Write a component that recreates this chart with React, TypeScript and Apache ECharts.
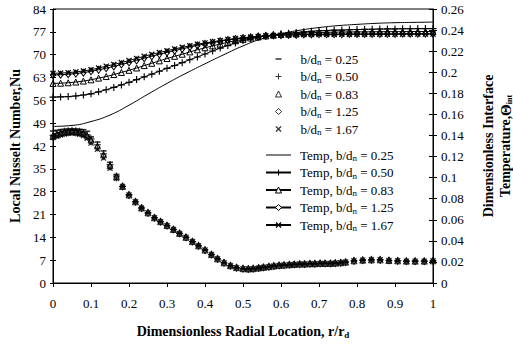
import React, { useEffect, useRef } from "react";
import * as echarts from "echarts";

// Radial locations of the Nusselt-number samples (r/rd)
const xNu = [0, 0.01, 0.02, 0.03, 0.04, 0.05, 0.06, 0.07, 0.08, 0.09, 0.1,
  0.117, 0.133, 0.15, 0.167, 0.183, 0.2, 0.217, 0.233, 0.25, 0.267, 0.283, 0.3,
  0.317, 0.333, 0.35, 0.367, 0.383, 0.4, 0.417, 0.433, 0.45, 0.467, 0.483, 0.5,
  0.514, 0.527, 0.541, 0.554, 0.568, 0.581, 0.595, 0.608, 0.622, 0.635, 0.649,
  0.662, 0.676, 0.689, 0.703, 0.716, 0.73, 0.743, 0.757, 0.77,
  0.792, 0.815, 0.838, 0.861, 0.884, 0.907, 0.93, 0.953, 0.977, 1];

// Nu near the stagnation zone (first 15 samples) for each b/dn
const nuHead025 = [46.6, 46.8, 47.0, 47.1, 47.2, 47.2, 47.2, 47.1, 47.0, 46.5, 44.8, 43.2, 40.5, 37.0, 33.3];
const nuHead050 = [45.3, 45.8, 46.2, 46.5, 46.7, 46.8, 46.7, 46.5, 46.1, 45.4, 44.2, 42.4, 39.6, 36.3, 32.8];
const nuHead083 = [45.0, 45.5, 45.9, 46.2, 46.4, 46.5, 46.4, 46.2, 45.8, 45.1, 43.8, 42.0, 39.3, 36.0, 32.6];
const nuHead125 = [44.8, 45.3, 45.7, 46.0, 46.2, 46.3, 46.2, 46.0, 45.6, 44.8, 43.4, 41.6, 38.9, 35.7, 32.4];
const nuHead167 = [44.6, 45.0, 45.4, 45.7, 45.9, 46.0, 45.9, 45.6, 45.2, 44.4, 42.9, 41.0, 38.3, 35.2, 32.1];
// Nu further out, where all b/dn curves coincide
const nuTail = [29.6, 27.0, 24.9, 23.0, 21.5, 20.0, 18.8, 17.6, 16.4, 15.2, 14.0, 12.7, 11.4, 10.1, 8.7,
  7.4, 6.2, 5.3, 4.7, 4.4, 4.3, 4.4, 4.6, 4.8, 5.0, 5.2, 5.4, 5.5, 5.6, 5.7, 5.8, 5.8, 5.9, 5.9,
  6.0, 6.0, 6.0, 6.1, 6.2, 6.4, 6.8, 7.0, 7.1, 7.1, 6.9, 6.8, 6.7, 6.7, 6.7, 6.8];

// Interface temperature
const xPlain = [0, 0.05, 0.1, 0.15, 0.2, 0.25, 0.3, 0.35, 0.4, 0.45, 0.5, 0.55, 0.6, 0.65, 0.7, 0.75, 0.8, 0.85, 0.9, 0.95, 1];
const temp025 = [0.1486, 0.1495, 0.1532, 0.1594, 0.1687, 0.1792, 0.1894, 0.1990, 0.2080, 0.2167, 0.2250,
  0.2318, 0.2365, 0.2399, 0.2424, 0.2442, 0.2454, 0.2464, 0.2470, 0.2473, 0.2476];

const xT = [0, 0.02, 0.04, 0.06, 0.08, 0.1, 0.12, 0.14, 0.16, 0.18, 0.2, 0.22, 0.24, 0.26, 0.28, 0.3,
  0.32, 0.34, 0.36, 0.38, 0.4, 0.42, 0.44, 0.46, 0.48, 0.5, 0.52, 0.54, 0.56, 0.58, 0.6, 0.62, 0.64,
  0.66, 0.68, 0.7, 0.72, 0.74, 0.76, 0.78, 0.8, 0.82, 0.84, 0.86, 0.88, 0.9, 0.92, 0.94, 0.96, 0.98, 1];
const temp050 = [0.1764, 0.1766, 0.1769, 0.1775, 0.1784, 0.1795, 0.1814, 0.1834, 0.1856, 0.1880, 0.1904,
  0.1930, 0.1956, 0.1982, 0.2009, 0.2037, 0.2064, 0.2091, 0.2119, 0.2145, 0.2173, 0.2201, 0.2229, 0.2253,
  0.2278, 0.2300, 0.2317, 0.2332, 0.2346, 0.2355, 0.2365, 0.2371, 0.2377, 0.2383, 0.2388, 0.2393, 0.2396,
  0.2399, 0.2400, 0.2403, 0.2405, 0.2407, 0.2408, 0.2410, 0.2411, 0.2411, 0.2413, 0.2413, 0.2414, 0.2414, 0.2414];
const temp083 = [0.1894, 0.1896, 0.1900, 0.1907, 0.1916, 0.1928, 0.1944, 0.1959, 0.1978, 0.1998, 0.2018,
  0.2040, 0.2063, 0.2085, 0.2108, 0.2130, 0.2151, 0.2171, 0.2193, 0.2213, 0.2232, 0.2250, 0.2267, 0.2284,
  0.2298, 0.2312, 0.2325, 0.2335, 0.2345, 0.2352, 0.2359, 0.2363, 0.2366, 0.2371, 0.2374, 0.2377, 0.2379,
  0.2380, 0.2382, 0.2382, 0.2383, 0.2383, 0.2384, 0.2384, 0.2385, 0.2385, 0.2385, 0.2386, 0.2386, 0.2386, 0.2386];
const temp125 = [0.1975, 0.1976, 0.1981, 0.1987, 0.1996, 0.2009, 0.2023, 0.2038, 0.2055, 0.2074, 0.2092,
  0.2112, 0.2133, 0.2151, 0.2170, 0.2188, 0.2205, 0.2222, 0.2239, 0.2255, 0.2269, 0.2281, 0.2294, 0.2306,
  0.2315, 0.2325, 0.2332, 0.2340, 0.2345, 0.2349, 0.2352, 0.2354, 0.2355, 0.2359, 0.2360, 0.2362, 0.2362,
  0.2362, 0.2362, 0.2363, 0.2363, 0.2363, 0.2364, 0.2364, 0.2364, 0.2364, 0.2365, 0.2365, 0.2365, 0.2365, 0.2365];
const temp167 = [0.1990, 0.1992, 0.1996, 0.2003, 0.2012, 0.2024, 0.2040, 0.2057, 0.2074, 0.2092, 0.2111,
  0.2131, 0.2151, 0.2170, 0.2187, 0.2204, 0.2221, 0.2236, 0.2252, 0.2266, 0.2278, 0.2289, 0.2300, 0.2311,
  0.2320, 0.2328, 0.2334, 0.2340, 0.2345, 0.2349, 0.2352, 0.2354, 0.2355, 0.2357, 0.2359, 0.2359, 0.2359,
  0.2359, 0.2360, 0.2360, 0.2360, 0.2360, 0.2361, 0.2361, 0.2361, 0.2361, 0.2361, 0.2362, 0.2362, 0.2362, 0.2362];

const ratios = ["0.25", "0.50", "0.83", "1.25", "1.67"];
const nuHeads = [nuHead025, nuHead050, nuHead083, nuHead125, nuHead167];

const FONT = "'Liberation Serif', 'Times New Roman', serif";

const DASH = "path://M0,0H10V2.5H0Z";
const LINE_ICON = "path://M0,0H25V1H0Z";
const PLUS = "path://M4.2,0H5.8V4.2H10V5.8H5.8V10H4.2V5.8H0V4.2H4.2Z";
const CROSS = "path://M0,1.5L1.5,0L5,3.5L8.5,0L10,1.5L6.5,5L10,8.5L8.5,10L5,6.5L1.5,10L0,8.5L3.5,5Z";
const HOLLOW = { color: "rgba(255,255,255,0)", borderColor: "#000", borderWidth: 1 };
const HOLLOW_LEGEND = { color: "#fff", borderColor: "#000", borderWidth: 1 };

const nuSymbols: any[] = [
  { symbol: DASH, symbolSize: [6, 1.6], itemStyle: { color: "#000" } },
  { symbol: PLUS, symbolSize: 7, itemStyle: { color: "#000" } },
  { symbol: "triangle", symbolSize: 6, itemStyle: HOLLOW },
  { symbol: "diamond", symbolSize: [5, 7], itemStyle: HOLLOW },
  { symbol: CROSS, symbolSize: 6, itemStyle: { color: "#000" } },
];
const nuLegendIcons: any[] = [
  { icon: DASH },
  { icon: PLUS },
  { icon: "triangle", itemStyle: HOLLOW_LEGEND },
  { icon: "diamond", itemStyle: HOLLOW_LEGEND },
  { icon: CROSS },
];

const tempSets: any[] = [
  { x: xPlain, y: temp025, symbol: "none", symbolSize: 0, show: false, itemStyle: { color: "#000" } },
  { x: xT, y: temp050, symbol: PLUS, symbolSize: 7, show: true, itemStyle: { color: "#000" } },
  { x: xT, y: temp083, symbol: "triangle", symbolSize: 6, show: true, itemStyle: HOLLOW },
  { x: xT, y: temp125, symbol: "diamond", symbolSize: [5, 7], show: true, itemStyle: HOLLOW },
  { x: xT, y: temp167, symbol: CROSS, symbolSize: 6, show: true, itemStyle: { color: "#000" } },
];
const tempLegendStyles: any[] = [
  { icon: LINE_ICON, itemStyle: { color: "#000" } }, {}, { itemStyle: HOLLOW_LEGEND }, { itemStyle: HOLLOW_LEGEND }, {},
];

const nuName = (r: string) => `b/dn = ${r}`;
const tempName = (r: string) => `Temp, b/dn = ${r}`;

export default function App() {
  const ref = useRef<HTMLDivElement>(null);
  useEffect(() => {
    document.body.style.margin = "0";
    document.body.style.overflow = "hidden";
    if (!ref.current) return;
    const chart = echarts.init(ref.current, null, { renderer: "svg" });

    const series: any[] = [];
    ratios.forEach((r, k) => {
      const head = nuHeads[k];
      series.push({
        name: nuName(r),
        type: "scatter",
        xAxisIndex: 0,
        yAxisIndex: 0,
        data: xNu.map((x, i) => [x, i < head.length ? head[i] : nuTail[i - head.length]]),
        ...nuSymbols[k],
        z: 3,
      });
    });
    ratios.forEach((r, k) => {
      const t = tempSets[k];
      series.push({
        name: tempName(r),
        type: "line",
        xAxisIndex: 0,
        yAxisIndex: 1,
        data: t.x.map((x: number, i: number) => [x, t.y[i]]),
        symbol: t.symbol,
        symbolSize: t.symbolSize,
        showSymbol: t.show,
        smooth: k === 0,
        itemStyle: t.itemStyle,
        lineStyle: { color: "#000", width: 1 },
        z: 4,
      });
    });

    const rich = {
      s: { fontSize: 9, fontFamily: FONT, color: "#000", padding: [6, 0, 0, 0] },
    };
    const legendText = (padLeft: number) => ({
      fontFamily: FONT,
      fontSize: 13,
      color: "#000",
      lineHeight: 14,
      padding: [0, 0, 0, padLeft],
      rich,
    });
    const fmt = (name: string) => name.replace("dn", "d{s|n}");
    const TITLE = 14;

    chart.setOption({
      animation: false,
      backgroundColor: "#fff",
      textStyle: { fontFamily: FONT, color: "#000" },
      grid: {
        left: 53, right: 80, top: 9, bottom: 63,
        outerBoundsMode: "none",
        containLabel: false,
        show: true, borderColor: "#000", borderWidth: 1, backgroundColor: "transparent",
      },
      legend: [
        {
          data: ratios.map((r, k) => ({ name: nuName(r), ...nuLegendIcons[k] })),
          orient: "vertical",
          left: 275,
          top: 52,
          padding: 0,
          itemWidth: 6,
          itemHeight: 6,
          itemGap: 3,
          selectedMode: false,
          formatter: fmt,
          textStyle: legendText(14),
        },
        {
          data: ratios.map((r, k) => ({ name: tempName(r), ...tempLegendStyles[k] })),
          orient: "vertical",
          left: 265,
          top: 148,
          padding: 0,
          itemWidth: 25,
          itemHeight: 7.5,
          itemGap: 3,
          selectedMode: false,
          formatter: fmt,
          textStyle: legendText(4),
        },
      ],
      xAxis: {
        type: "value",
        min: 0,
        max: 1,
        interval: 0.1,
        name: "Dimensionless Radial Location, r/r{s|d}",
        nameLocation: "middle",
        nameGap: 40,
        nameTextStyle: {
          fontFamily: FONT, fontSize: TITLE, fontWeight: "bold", color: "#000",
          rich: { s: { fontSize: 9, fontWeight: "bold", fontFamily: FONT, padding: [7, 0, 0, 0] } },
        },
        axisLine: { lineStyle: { color: "#000", width: 1 } },
        axisTick: { show: true, length: 4, lineStyle: { color: "#000" } },
        axisLabel: { fontFamily: FONT, fontSize: 13, color: "#000", margin: 14 },
        splitLine: { show: false },
      },
      yAxis: [
        {
          type: "value",
          position: "left",
          min: 0,
          max: 84,
          interval: 7,
          name: "Local Nusselt Number,Nu",
          nameLocation: "middle",
          nameGap: 31,
          nameTextStyle: { fontFamily: FONT, fontSize: TITLE, fontWeight: "bold", color: "#000" },
          axisLine: { show: true, lineStyle: { color: "#000", width: 1 } },
          axisTick: { show: true, length: 3, lineStyle: { color: "#000" } },
          axisLabel: { fontFamily: FONT, fontSize: 13, color: "#000", margin: 7 },
          splitLine: { show: false },
        },
        {
          type: "value",
          position: "right",
          min: 0,
          max: 0.26,
          interval: 0.02,
          name: "Dimensionless Interface\nTemperature,{t|Θ}{s|int}",
          nameLocation: "middle",
          nameRotate: 90,
          nameGap: 47,
          nameTextStyle: {
            fontFamily: FONT, fontSize: TITLE, fontWeight: "bold", color: "#000", lineHeight: 17,
            rich: {
              t: { fontFamily: FONT, fontSize: 15, fontWeight: "bold", lineHeight: 17 },
              s: { fontFamily: FONT, fontSize: 8, fontWeight: "bold", padding: [7, 0, 0, 0] },
            },
          },
          axisLine: { show: true, lineStyle: { color: "#000", width: 1 } },
          axisTick: { show: true, length: 4, lineStyle: { color: "#000" } },
          axisLabel: { fontFamily: FONT, fontSize: 13, color: "#000", margin: 8 },
          splitLine: { show: false },
        },
        {
          type: "value",
          position: "left",
          min: 0,
          max: 84,
          interval: 7,
          axisLine: { show: false },
          axisTick: { show: true, inside: true, length: 3, lineStyle: { color: "#000" } },
          axisLabel: { show: false },
          splitLine: { show: false },
        },
        {
          type: "value",
          position: "right",
          min: 0,
          max: 0.26,
          interval: 0.02,
          axisLine: { show: false },
          axisTick: { show: true, inside: true, length: 4, lineStyle: { color: "#000" } },
          axisLabel: { show: false },
          splitLine: { show: false },
        },
      ],
      series,
    });
    return () => chart.dispose();
  }, []);
  return <div ref={ref} style={{ width: 513, height: 346 }} />;
}
